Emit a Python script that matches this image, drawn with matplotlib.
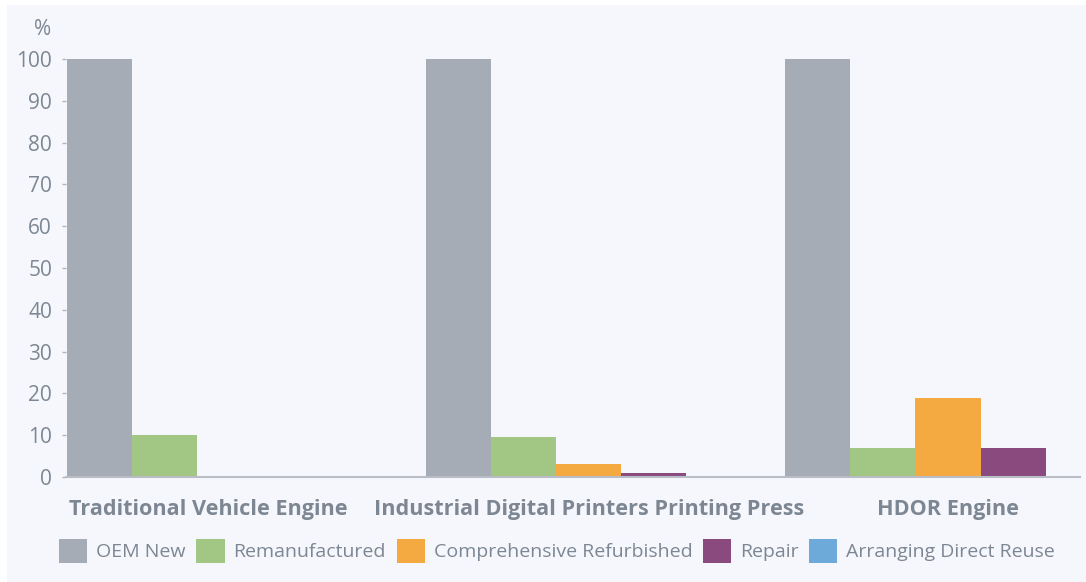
import matplotlib.pyplot as plt
import numpy as np
from matplotlib.patches import Rectangle

plt.rcParams['font.family'] = ['Open Sans', 'DejaVu Sans']

categories = ["Traditional Vehicle Engine", "Industrial Digital Printers Printing Press", "HDOR Engine"]
series = ["OEM New", "Remanufactured", "Comprehensive Refurbished", "Repair", "Arranging Direct Reuse"]
oem_new = [100, 100, 100]
remanufactured = [10, 9.5, 7]
refurbished = [0, 3, 19]
repair = [0, 1, 7]
direct_reuse = [0, 0, 0]
yticks = [0, 10, 20, 30, 40, 50, 60, 70, 80, 90, 100]

colors = ["#A5ACB5", "#A2C683", "#F5A941", "#8A4A7E", "#6DAAD9"]
text_col = "#7D8793"
panel = "#F5F7FC"

fig = plt.figure(figsize=(10.86, 5.82), dpi=100)
fig.patch.set_facecolor("white")
fig.patches.append(Rectangle((7 / 1086, 0.0), 1.0, 1 - 5 / 582, transform=fig.transFigure,
                             facecolor=panel, edgecolor="none", zorder=-1))

ax = fig.add_axes([66 / 1086, 1 - 477 / 582, 1014 / 1086, 418 / 582])
ax.set_facecolor(panel)

x = np.arange(len(categories))
w = 0.181
values = [oem_new, remanufactured, refurbished, repair, direct_reuse]
for k, (name, vals) in enumerate(zip(series, values)):
    ax.bar(x + k * w, vals, width=w, align="edge", color=colors[k], label=name,
           clip_on=False, zorder=2)

ax.set_xlim(-0.003, 2.82)
ax.set_ylim(0, 100)
ax.set_yticks(yticks)
ax.tick_params(axis="y", colors="#B0B6C0", length=3, width=1, pad=7, labelcolor=text_col, labelsize=15)

# group labels; the first one is pulled left so it stays inside the panel
label_pos = x + 2.5 * w
label_pos[0] -= 0.06
ax.set_xticks(label_pos)
ax.set_xticklabels(categories, fontsize=15.6, fontweight="bold", color=text_col)
ax.tick_params(axis="x", length=0, pad=16)

for s in ["top", "right", "left"]:
    ax.spines[s].set_visible(False)
ax.spines["bottom"].set_color("#B8BDC6")
ax.spines["bottom"].set_linewidth(1.5)

ax.text(-0.023, 107, "%", transform=ax.get_yaxis_transform(), ha="center", va="center",
        fontsize=15, color=text_col)

leg = fig.legend(loc="center", bbox_to_anchor=(0.513, 1 - 551 / 582), ncol=5, frameon=False,
                 fontsize=14, handlelength=1.45, handleheight=1.45, handletextpad=0.45,
                 columnspacing=0.55, labelcolor=text_col)

fig.savefig("out.png", dpi=100, facecolor=fig.get_facecolor())
